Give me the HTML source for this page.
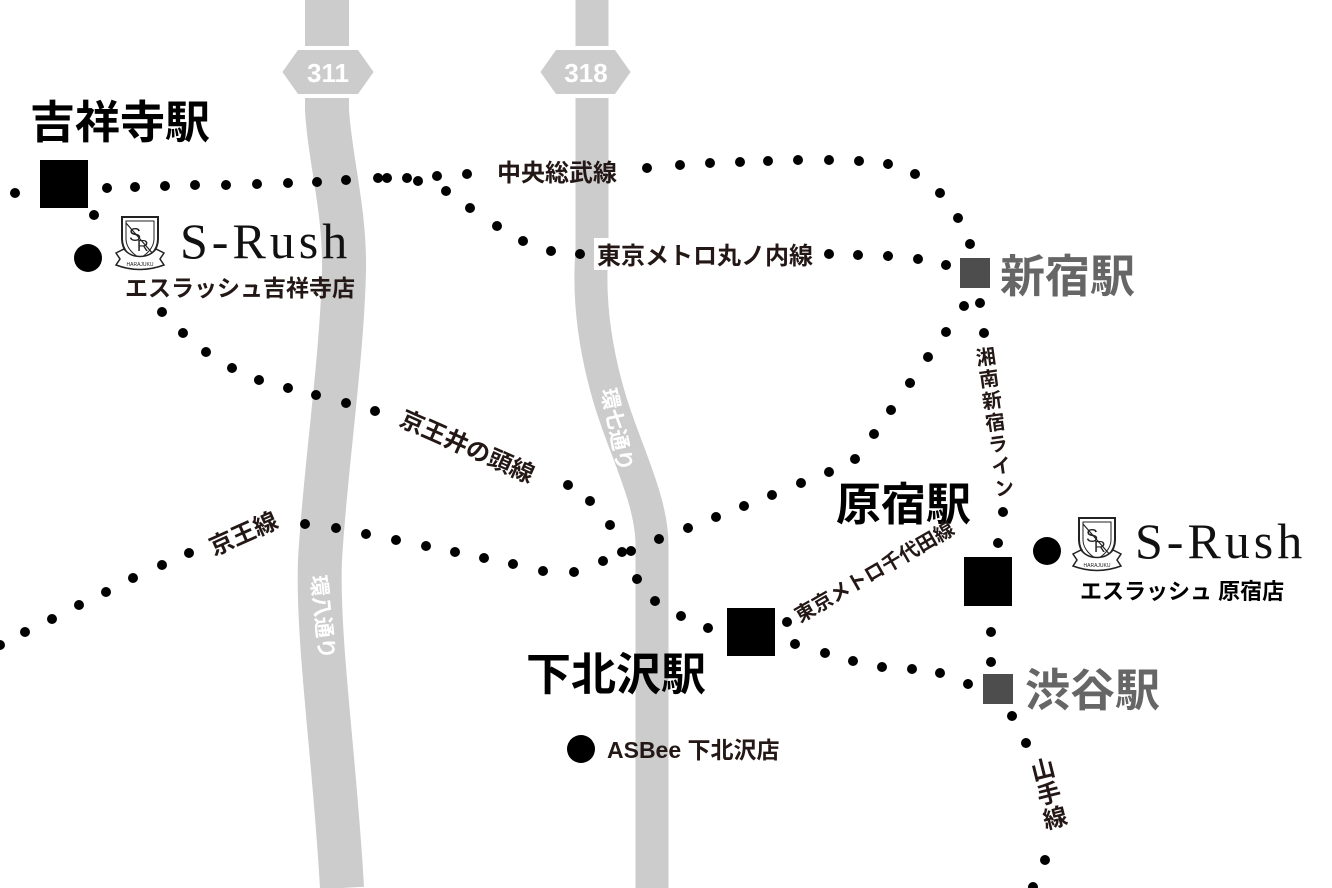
<!DOCTYPE html>
<html><head><meta charset="utf-8"><style>
html,body{margin:0;padding:0;background:#fff;}
svg{display:block;}
text{font-family:"Liberation Sans","Noto Sans CJK JP",sans-serif;}
.lb{font-size:24px;fill:#231815;font-weight:bold;}
.st{font-size:45px;font-weight:bold;fill:#000;}
.sr{font-family:"Liberation Serif","Noto Serif CJK SC",serif;font-size:50px;fill:#111;letter-spacing:4px;}
</style></head><body>
<svg width="1332" height="888" viewBox="0 0 1332 888" xmlns="http://www.w3.org/2000/svg">
<defs>
<g id="shield">
<path d="M4,4 L40,4 L40,26 C40,38 30,46 22,50 C14,46 4,38 4,26 Z" fill="#fff" stroke="#222" stroke-width="2"/>
<path d="M8,8 L36,8 L36,26 C36,35 28,42 22,45 C16,42 8,35 8,26 Z" fill="none" stroke="#222" stroke-width="1"/>
<text x="11" y="28" font-family="Liberation Serif,serif" font-size="18" fill="#222">S</text>
<text x="19" y="38" font-family="Liberation Serif,serif" font-size="16" fill="#222">R</text>
<line x1="8" y1="10" x2="36" y2="42" stroke="#222" stroke-width="1.2"/>
<path d="M-2,40 L6,36 C14,46 30,46 38,36 L46,40 L42,46 L46,52 C30,58 14,58 -2,52 L2,46 Z" fill="#fff" stroke="#222" stroke-width="1.5"/>
<text x="22" y="53" font-size="5" text-anchor="middle" fill="#222">HARAJUKU</text>
</g>
</defs>
<g fill="none" stroke="#cccccc" stroke-linecap="butt">
<path d="M327,0 L327,110 C330,160 345,210 344,270 C342,360 325,470 320,560 C317,640 335,760 342,888" stroke-width="44"/>
<path d="M592,0 L592,250 C588,300 595,350 610,400 C625,450 652,500 652,545 L652,888" stroke-width="33"/>
</g>
<polygon points="280,72 297,48 359,48 376,72 359,96 297,96" fill="#cccccc" stroke="#fff" stroke-width="4"/>
<text x="328" y="82" font-size="26" font-weight="bold" fill="#fff" text-anchor="middle">311</text>
<polygon points="538,72 555,48 616,48 633,72 616,96 555,96" fill="#cccccc" stroke="#fff" stroke-width="4"/>
<text x="586" y="82" font-size="26" font-weight="bold" fill="#fff" text-anchor="middle">318</text>
<text transform="translate(601,390) rotate(78)" font-size="21" font-weight="bold" fill="#fff">環七通り</text>
<text transform="translate(311,576) rotate(84)" font-size="21" font-weight="bold" fill="#fff">環八通り</text>

<g fill="#000">
<circle cx="15" cy="193" r="5"/><circle cx="107" cy="188" r="5"/><circle cx="135" cy="187" r="5"/><circle cx="165" cy="186" r="5"/><circle cx="195" cy="185" r="5"/><circle cx="226" cy="185" r="5"/><circle cx="257" cy="184" r="5"/><circle cx="288" cy="183" r="5"/><circle cx="317" cy="182" r="5"/><circle cx="346" cy="180" r="5"/><circle cx="378" cy="178" r="5"/><circle cx="387" cy="178" r="5"/><circle cx="407" cy="178" r="5"/><circle cx="418" cy="181" r="5"/><circle cx="437" cy="176" r="5"/><circle cx="467" cy="174" r="5"/>
<circle cx="647" cy="168" r="5"/><circle cx="680" cy="165" r="5"/><circle cx="710" cy="163" r="5"/><circle cx="740" cy="162" r="5"/><circle cx="768" cy="161" r="5"/><circle cx="798" cy="160" r="5"/><circle cx="829" cy="160" r="5"/><circle cx="859" cy="161" r="5"/><circle cx="888" cy="164" r="5"/><circle cx="915" cy="174" r="5"/><circle cx="940" cy="193" r="5"/><circle cx="958" cy="218" r="5"/><circle cx="970" cy="244" r="5"/>
<circle cx="446" cy="191" r="5"/><circle cx="470" cy="208" r="5"/><circle cx="497" cy="226" r="5"/><circle cx="523" cy="241" r="5"/><circle cx="551" cy="251" r="5"/><circle cx="580" cy="254" r="5"/>
<circle cx="829" cy="254" r="5"/><circle cx="858" cy="255" r="5"/><circle cx="888" cy="256" r="5"/><circle cx="918" cy="259" r="5"/><circle cx="946" cy="265" r="5"/>
<circle cx="94" cy="215" r="5"/><circle cx="162" cy="312" r="5"/><circle cx="183" cy="333" r="5"/><circle cx="206" cy="352" r="5"/><circle cx="232" cy="368" r="5"/><circle cx="259" cy="380" r="5"/><circle cx="288" cy="388" r="5"/><circle cx="316" cy="395" r="5"/><circle cx="346" cy="403" r="5"/><circle cx="375" cy="411" r="5"/>
<circle cx="568" cy="485" r="5"/><circle cx="590" cy="501" r="5"/><circle cx="610" cy="525" r="5"/><circle cx="631" cy="551" r="5"/><circle cx="637" cy="579" r="5"/><circle cx="655" cy="601" r="5"/><circle cx="681" cy="616" r="5"/><circle cx="708" cy="628" r="5"/>
<circle cx="0" cy="645" r="5"/><circle cx="25" cy="632" r="5"/><circle cx="52" cy="619" r="5"/><circle cx="79" cy="605" r="5"/><circle cx="106" cy="592" r="5"/><circle cx="133" cy="578" r="5"/><circle cx="162" cy="565" r="5"/><circle cx="189" cy="553" r="5"/>
<circle cx="305" cy="524" r="5"/><circle cx="336" cy="528" r="5"/><circle cx="366" cy="534" r="5"/><circle cx="396" cy="540" r="5"/><circle cx="426" cy="546" r="5"/><circle cx="455" cy="552" r="5"/><circle cx="484" cy="558" r="5"/><circle cx="513" cy="564" r="5"/><circle cx="543" cy="571" r="5"/><circle cx="574" cy="572" r="5"/><circle cx="603" cy="561" r="5"/><circle cx="622" cy="552" r="5"/>
<circle cx="659" cy="539" r="5"/><circle cx="688" cy="528" r="5"/><circle cx="716" cy="517" r="5"/><circle cx="744" cy="506" r="5"/><circle cx="772" cy="495" r="5"/><circle cx="801" cy="483" r="5"/><circle cx="829" cy="472" r="5"/><circle cx="855" cy="459" r="5"/><circle cx="874" cy="434" r="5"/><circle cx="891" cy="410" r="5"/><circle cx="910" cy="383" r="5"/><circle cx="928" cy="357" r="5"/><circle cx="946" cy="332" r="5"/><circle cx="964" cy="306" r="5"/>
<circle cx="980" cy="303" r="5"/><circle cx="984" cy="333" r="5"/><circle cx="1003" cy="512" r="5"/><circle cx="998" cy="543" r="5"/><circle cx="991" cy="632" r="5"/><circle cx="991" cy="662" r="5"/><circle cx="1012" cy="716" r="5"/><circle cx="1026" cy="743" r="5"/><circle cx="1045" cy="860" r="5"/><circle cx="1033" cy="887" r="5"/>
<circle cx="787" cy="622" r="5"/>
<circle cx="795" cy="644" r="5"/><circle cx="825" cy="653" r="5"/><circle cx="853" cy="661" r="5"/><circle cx="882" cy="667" r="5"/><circle cx="912" cy="669" r="5"/><circle cx="940" cy="673" r="5"/><circle cx="968" cy="684" r="5"/>
</g>
<rect x="40" y="160" width="48" height="48" fill="#000"/>
<rect x="727" y="608" width="48" height="48" fill="#000"/>
<rect x="964" y="557" width="48" height="49" fill="#000"/>
<rect x="960" y="258" width="30" height="30" fill="#4d4d4d"/>
<rect x="983" y="674" width="30" height="30" fill="#4d4d4d"/>
<text class="st" x="30" y="138">吉祥寺駅</text>
<text class="st" x="836" y="520">原宿駅</text>
<text class="st" x="526" y="690">下北沢駅</text>
<text class="st" x="1000" y="292" style="fill:#666">新宿駅</text>
<text class="st" x="1025" y="706" style="fill:#666">渋谷駅</text>
<text class="lb" x="497" y="181">中央総武線</text>
<rect x="594" y="238" width="226" height="32" fill="#fff"/>
<text class="lb" x="597" y="264">東京メトロ丸ノ内線</text>
<text class="lb" transform="translate(398,425) rotate(24)">京王井の頭線</text>
<text class="lb" transform="translate(214,556) rotate(-24)">京王線</text>
<text class="lb" transform="translate(800,623) rotate(-30)" style="font-size:20px">東京メトロ千代田線</text>
<text class="lb" transform="translate(982,347) rotate(-8)" writing-mode="tb" style="font-size:20px;letter-spacing:2px">湘南新宿ライン</text>
<text class="lb" transform="translate(1037,758) rotate(-14)" writing-mode="tb" style="font-size:24px;letter-spacing:1px">山手線</text>
<circle cx="88" cy="258" r="14" fill="#000"/>
<use href="#shield" transform="translate(118,213)"/>
<text class="sr" x="180" y="258">S-Rush</text>
<text x="125" y="296" font-size="23" font-weight="bold" fill="#231815">エスラッシュ吉祥寺店</text>
<circle cx="1047" cy="551" r="14" fill="#000"/>
<use href="#shield" transform="translate(1075,514)"/>
<text class="sr" x="1135" y="558">S-Rush</text>
<text x="1080" y="599" font-size="22" font-weight="bold" fill="#000">エスラッシュ 原宿店</text>
<circle cx="581" cy="749" r="14" fill="#000"/>
<text x="607" y="758" font-size="23" font-weight="bold" fill="#231815">ASBee 下北沢店</text>
</svg>
</body></html>
